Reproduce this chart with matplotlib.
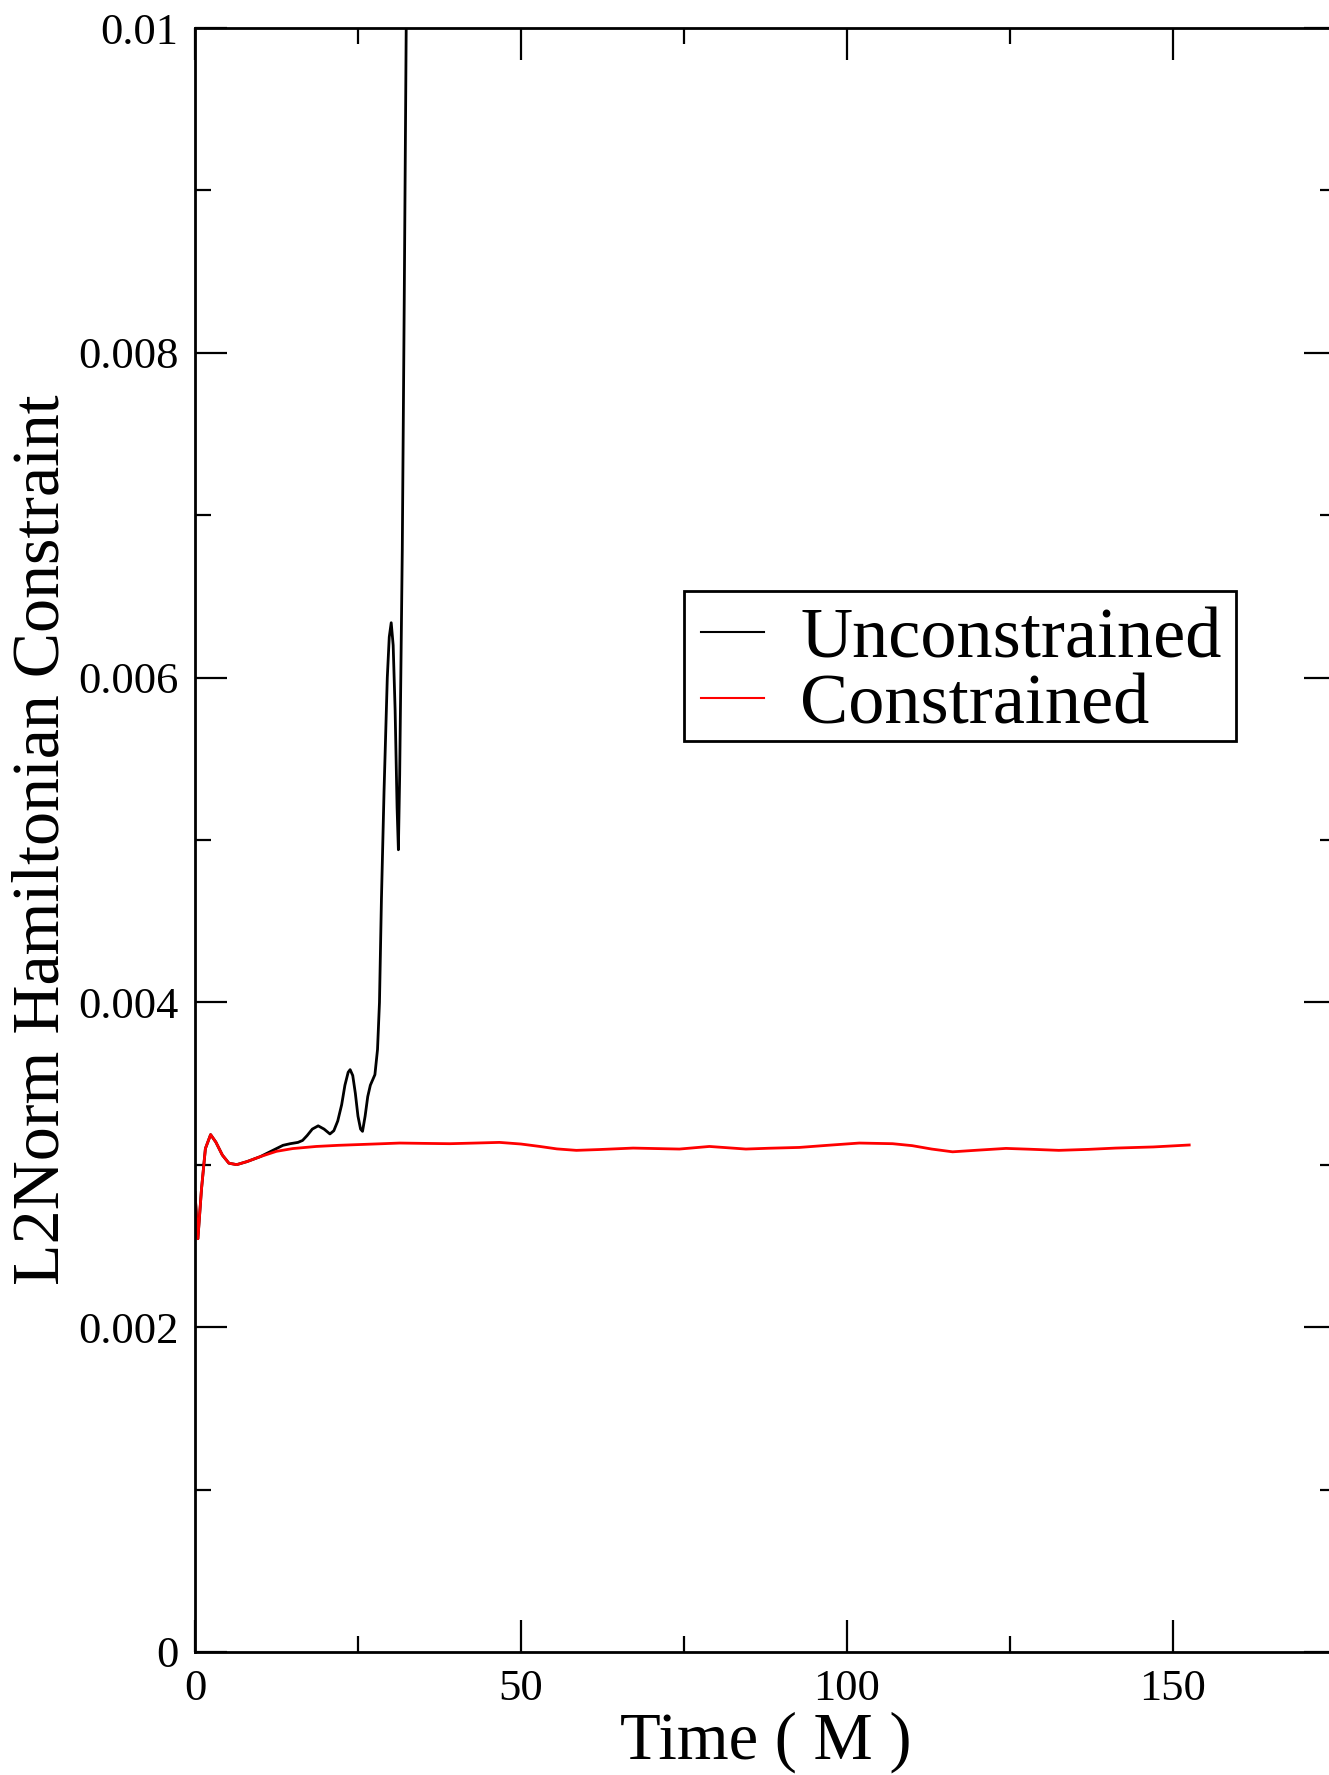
import matplotlib
matplotlib.use("Agg")
import matplotlib.pyplot as plt
from matplotlib.patches import Rectangle
from matplotlib.ticker import MultipleLocator, FuncFormatter

plt.rcParams['font.family'] = ['Liberation Serif', 'DejaVu Serif']

# Unconstrained evolution: L2 norm of the Hamiltonian constraint vs time
t_unc = [0, 0.45, 1.0, 1.6, 2.4, 3.2, 4.2, 5.2, 6.4, 8, 10, 12, 13.5, 14.6, 15.8,
         16.5, 17.2, 18.0, 18.9, 19.8, 20.7, 21.3, 21.9, 22.5, 23.0, 23.5, 23.8,
         24.2, 24.6, 25.0, 25.4, 25.7, 26.1, 26.5, 26.9, 27.6, 28.0, 28.3, 28.6,
         29.0, 29.5, 29.8, 30.1, 30.4, 30.7, 31.0, 31.2, 31.4, 31.8, 32.1, 32.4, 32.6]
h_unc = [0.00283, 0.002545, 0.00285, 0.00310, 0.003186, 0.00314, 0.00306, 0.00301,
         0.003001, 0.00302, 0.00305, 0.00309, 0.00312, 0.00313, 0.003138,
         0.00315, 0.00318, 0.00322, 0.00324, 0.00322, 0.00319, 0.00321, 0.00327,
         0.00337, 0.00349, 0.00357, 0.003586, 0.00355, 0.00344, 0.00330, 0.00322,
         0.003206, 0.00330, 0.00342, 0.00349, 0.003555, 0.00371, 0.0040, 0.004633,
         0.0053, 0.0060, 0.00625, 0.006338, 0.0062, 0.0058, 0.0052, 0.00494,
         0.0054, 0.00679, 0.00833, 0.0100, 0.0110]

# Constrained evolution
t_con = [0, 0.45, 1.0, 1.6, 2.4, 3.2, 4.2, 5.2, 6.4, 8, 10, 12.5, 15, 18.6, 22,
         28.8, 31.4, 35, 39.1, 43, 46.7, 50, 52.9, 55.5, 58.5, 62, 67.2, 74.3, 78.9,
         84.5, 88, 92.7, 97, 101.9, 107, 110, 113, 116.2, 120, 124.4, 128,
         132.5, 137, 141.2, 147, 152.5]
h_con = [0.00283, 0.002545, 0.00285, 0.00310, 0.003186, 0.00314, 0.00306, 0.00301,
         0.003001, 0.00302, 0.00305, 0.003083, 0.0031, 0.003113, 0.00312,
         0.00313, 0.003134, 0.003132, 0.00313, 0.003134, 0.003138, 0.003128,
         0.003113, 0.003098, 0.003089, 0.003094, 0.003103, 0.003097, 0.003113,
         0.003097, 0.003102, 0.003107, 0.00312, 0.003134, 0.00313, 0.003118,
         0.003097, 0.00308, 0.00309, 0.003101, 0.003096, 0.003089, 0.003095,
         0.003103, 0.00311, 0.003122]

W, H = 1329, 1775
fig = plt.figure(figsize=(W / 100, H / 100), dpi=100)
ax = fig.add_axes([0.1467, 0.0693, 0.8585, 0.9149])

ax.plot(t_unc, h_unc, color='black', lw=2, label='Unconstrained')
ax.plot(t_con, h_con, color='red', lw=2, label='Constrained')

ax.set_xlim(0, 175)
ax.set_ylim(0, 0.01)

ax.xaxis.set_major_locator(MultipleLocator(50))
ax.xaxis.set_minor_locator(MultipleLocator(25))
ax.yaxis.set_major_locator(MultipleLocator(0.002))
ax.yaxis.set_minor_locator(MultipleLocator(0.001))
ax.yaxis.set_major_formatter(FuncFormatter(lambda v, p: '0' if v == 0 else ('%g' % round(v, 4))))
ax.xaxis.set_major_formatter(FuncFormatter(lambda v, p: '%d' % v))

ax.tick_params(which='both', direction='in', top=True, right=True, width=1.6)
ax.tick_params(which='major', length=23, labelsize=32, pad=12)
ax.tick_params(which='minor', length=11.5)
for s in ax.spines.values():
    s.set_linewidth(2)

ax.set_xlabel('Time ( M )', fontsize=48, labelpad=2)
ax.set_ylabel('L2Norm Hamiltonian Constraint', fontsize=49, labelpad=4)

# legend entries without frame, box drawn separately in figure pixels
leg = ax.legend(loc='upper left', bbox_to_anchor=(701 / W, 1 - 607 / H),
                bbox_transform=fig.transFigure, fontsize=52, frameon=False,
                borderaxespad=0, borderpad=0,
                handlelength=0.875, handletextpad=0.5, labelspacing=0.0)
for line in leg.get_lines():
    line.set_linewidth(1.5)

fig.add_artist(Rectangle((684 / W, 1 - 741 / H), (1236 - 684) / W, (741 - 591) / H,
                         transform=fig.transFigure, fill=False,
                         edgecolor='black', linewidth=2))

fig.savefig('out.png', dpi=100)
